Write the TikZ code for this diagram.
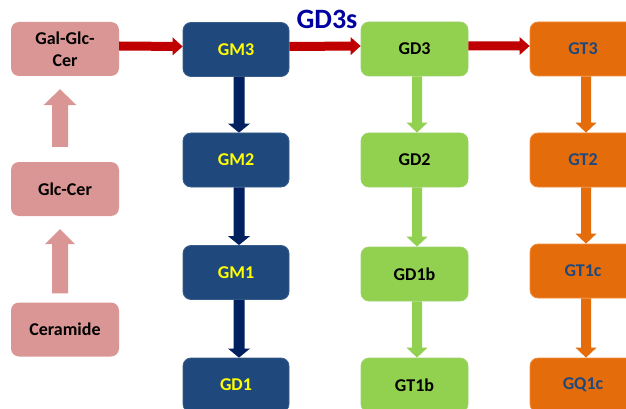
\documentclass[tikz,border=0pt]{standalone}
\usepackage{fontspec}
\setmainfont{Carlito}
\usetikzlibrary{calc}
\definecolor{pinkc}{RGB}{218,150,148}
\definecolor{bluec}{RGB}{31,73,125}
\definecolor{blueb}{RGB}{56,93,138}
\definecolor{navyc}{RGB}{0,32,96}
\definecolor{greenc}{RGB}{146,208,80}
\definecolor{greenb}{RGB}{160,210,110}
\definecolor{orangec}{RGB}{228,108,10}
\definecolor{orangeb}{RGB}{240,140,60}
\definecolor{redc}{RGB}{192,0,0}
\definecolor{titlec}{RGB}{0,0,160}
\definecolor{ytext}{RGB}{255,255,0}
% #1 colour, #2 from, #3 to, #4 half shaft width, #5 half head width, #6 head length
\newcommand\fatarrow[6]{%
  \coordinate (fa-s) at (#2);
  \coordinate (fa-e) at (#3);
  \coordinate (fa-b) at ($(fa-e)!#6!(fa-s)$);
  \fill[#1] ($(fa-s)!#4!90:(fa-e)$) -- ($(fa-b)!#4!-90:(fa-s)$) -- ($(fa-b)!#5!-90:(fa-s)$)
    -- (fa-e) -- ($(fa-b)!#5!90:(fa-s)$) -- ($(fa-b)!#4!90:(fa-s)$)
    -- ($(fa-s)!#4!-90:(fa-e)$) -- cycle;}
\begin{document}
\begin{tikzpicture}[x=1pt,y=-1pt,
  box/.style={rectangle,rounded corners=8pt,minimum height=54pt,inner sep=2pt,
    font=\fontsize{18}{21.6}\selectfont\bfseries,align=center},
  pinkbox/.style={box,fill=pinkc,minimum width=108pt,text=black},
  bluebox/.style={box,fill=bluec,draw=blueb,line width=0.8pt,minimum width=106pt,text=ytext},
  greenbox/.style={box,fill=greenc,draw=greenb,line width=0.8pt,minimum width=107pt,text=black},
  orangebox/.style={box,fill=orangec,draw=orangeb,line width=0.8pt,minimum width=106pt,text=bluec},
  title/.style={font=\fontsize{28}{32}\selectfont\bfseries,text=titlec}
]
\useasboundingbox (0,0) rectangle (626,409);
% pink column
\node[pinkbox] (galglc) at (65,49) {Gal-Glc-\\Cer};
\node[pinkbox] (glc) at (65,189) {Glc-Cer};
\node[pinkbox] (cer) at (65,329.5) {Ceramide};
% blue column
\node[bluebox] (gm3) at (236,49.5) {GM3};
\node[bluebox] (gm2) at (236,160) {GM2};
\node[bluebox] (gm1) at (236,272.5) {GM1};
\node[bluebox] (gd1) at (236,385) {GD1};
% green column
\node[greenbox] (gd3) at (414.5,49) {GD3};
\node[greenbox] (gd2) at (414.5,160) {GD2};
\node[greenbox] (gd1b) at (414.5,274) {GD1b};
\node[greenbox] (gt1b) at (414.5,385) {GT1b};
% orange column
\node[orangebox] (gt3) at (583,49) {GT3};
\node[orangebox] (gt2) at (583,160) {GT2};
\node[orangebox] (gt1c) at (583,271) {GT1c};
\node[orangebox] (gq1c) at (583,385) {GQ1c};
% title
\node[title] (gd3s) at (327,19) {GD3s};
% pink arrows
\fatarrow{pinkc}{[xshift=-5pt,yshift=15pt]glc.north}{[xshift=-5pt,yshift=-13pt]galglc.south}{8pt}{16.5pt}{16pt}
\fatarrow{pinkc}{[xshift=-5pt,yshift=9pt]cer.north}{[xshift=-5pt,yshift=-13pt]glc.south}{8pt}{15pt}{15pt}
% red arrows
\fatarrow{redc}{[yshift=3pt]galglc.east}{[yshift=3pt]gm3.west}{4.5pt}{9pt}{10pt}
\fatarrow{redc}{[yshift=3pt]gm3.east}{[yshift=3pt]gd3.west}{4.5pt}{9pt}{10pt}
\fatarrow{redc}{[yshift=3pt]gd3.east}{[yshift=3pt]gt3.west}{4.5pt}{9pt}{10pt}
% blue arrows
\fatarrow{navyc}{[xshift=3pt]gm3.south}{[xshift=3pt]gm2.north}{5.5pt}{11pt}{9pt}
\fatarrow{navyc}{[xshift=3pt]gm2.south}{[xshift=3pt]gm1.north}{5.5pt}{11pt}{9pt}
\fatarrow{navyc}{[xshift=3pt]gm1.south}{[xshift=3pt]gd1.north}{5.5pt}{11pt}{9pt}
% green arrows
\fatarrow{greenc}{[xshift=2.5pt]gd3.south}{[xshift=2.5pt]gd2.north}{5pt}{10.5pt}{10pt}
\fatarrow{greenc}{[xshift=2.5pt]gd2.south}{[xshift=2.5pt]gd1b.north}{5pt}{10.5pt}{10pt}
\fatarrow{greenc}{[xshift=2.5pt]gd1b.south}{[xshift=2.5pt]gt1b.north}{5pt}{10.5pt}{10pt}
% orange arrows
\fatarrow{orangec}{[xshift=3pt]gt3.south}{[xshift=3pt]gt2.north}{5pt}{10.5pt}{10pt}
\fatarrow{orangec}{[xshift=3pt]gt2.south}{[xshift=3pt]gt1c.north}{5pt}{10.5pt}{10pt}
\fatarrow{orangec}{[xshift=3pt]gt1c.south}{[xshift=3pt]gq1c.north}{5pt}{10.5pt}{10pt}
\end{tikzpicture}
\end{document}
